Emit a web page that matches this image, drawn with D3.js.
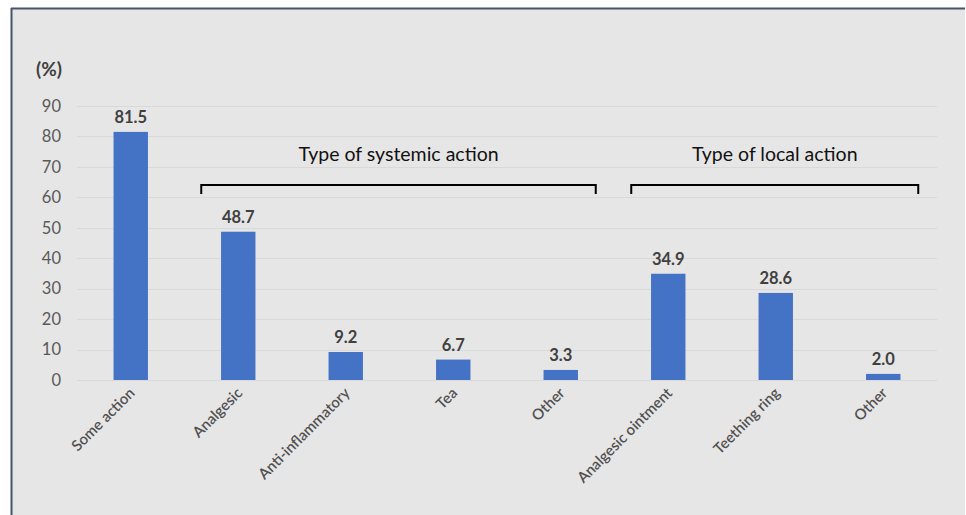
<!DOCTYPE html>
<html>
<head>
<meta charset="utf-8">
<script src="https://cdn.jsdelivr.net/npm/d3@7"></script>
<style>
  html, body { margin: 0; padding: 0; background: #fff; }
  svg { display: block; }
</style>
</head>
<body>
<div id="chart"></div>
<script>
const categories = ["Some action", "Analgesic", "Anti-inflammatory", "Tea", "Other",
                    "Analgesic ointment", "Teething ring", "Other "];
const values = [81.5, 48.7, 9.2, 6.7, 3.3, 34.9, 28.6, 2.0];
const yTicks = [0, 10, 20, 30, 40, 50, 60, 70, 80, 90];
const groups = [
  {label: "Type of systemic action", from: 1, to: 4},
  {label: "Type of local action", from: 5, to: 7}
];

var w = 966,
    h = 515;

var font = "Lato, 'Open Sans', sans-serif";

var svg = d3.select("#chart").append("svg")
    .attr("width", w)
    .attr("height", h);

// panel
svg.append("rect")
    .attr("x", 11).attr("y", 8)
    .attr("width", 954).attr("height", h)
    .attr("fill", "#e7e6e6");
svg.append("line")
    .attr("x1", 11).attr("x2", 965).attr("y1", 8.5).attr("y2", 8.5)
    .attr("stroke", "#44546a").attr("stroke-width", 2);
svg.append("line")
    .attr("x1", 11.5).attr("x2", 11.5).attr("y1", 8).attr("y2", h)
    .attr("stroke", "#44546a").attr("stroke-width", 2);

var x = d3.scaleBand()
    .domain(categories)
    .range([77, 937])
    .paddingInner(0.68)
    .paddingOuter(0.34);

var y = d3.scaleLinear()
    .domain([0, 90])
    .range([380, 106]);

// gridlines
svg.append("g")
    .selectAll("line")
    .data(yTicks)
    .enter()
    .append("line")
    .attr("x1", 77).attr("x2", 937)
    .attr("y1", function (d) { return Math.round(y(d)) + 0.5; })
    .attr("y2", function (d) { return Math.round(y(d)) + 0.5; })
    .attr("stroke", "#d9d9d9")
    .attr("stroke-width", 1);

// y axis labels
var yAxis = svg.append("g")
    .attr("transform", "translate(61,0)")
    .call(d3.axisLeft(y).tickValues(yTicks).tickSize(0).tickPadding(0));
yAxis.select(".domain").remove();
yAxis.selectAll("text")
    .attr("font-family", font)
    .attr("font-size", 16.5)
    .attr("fill", "#595959");

svg.append("text")
    .attr("x", 36).attr("y", 76)
    .attr("font-family", font)
    .attr("font-size", 19)
    .attr("font-weight", "bold")
    .attr("fill", "#404040")
    .text("(%)");

// bars
svg.selectAll("rect.bar")
    .data(values)
    .enter()
    .append("rect")
    .attr("class", "bar")
    .attr("x", function (d, i) { return x(categories[i]); })
    .attr("width", x.bandwidth())
    .attr("y", function (d) { return y(d); })
    .attr("height", function (d) { return y(0) - y(d); })
    .attr("fill", "#4472c4");

// value labels
svg.selectAll("text.val")
    .data(values)
    .enter()
    .append("text")
    .attr("class", "val")
    .attr("x", function (d, i) { return x(categories[i]) + x.bandwidth() / 2; })
    .attr("y", function (d) { return y(d) - 9; })
    .attr("text-anchor", "middle")
    .attr("font-family", font)
    .attr("font-size", 16.5)
    .attr("font-weight", "bold")
    .attr("fill", "#404040")
    .text(function (d) { return d.toFixed(1); });

// category labels
svg.selectAll("text.cat")
    .data(categories)
    .enter()
    .append("text")
    .attr("class", "cat")
    .attr("transform", function (d) {
        var cx = x(d) + x.bandwidth() / 2 + 5;
        return "translate(" + cx + ",394) rotate(-45)";
    })
    .attr("text-anchor", "end")
    .attr("font-family", font)
    .attr("font-size", 15)
    .attr("font-weight", 600)
    .attr("fill", "#505050")
    .text(function (d) { return d.trim(); });

// group brackets
groups.forEach(function (g) {
    var x0 = x(categories[g.from]) + x.bandwidth() / 2 - 37,
        x1 = x(categories[g.to]) + x.bandwidth() / 2 + 35,
        yb = 185;
    svg.append("path")
        .attr("d", "M" + x0 + "," + (yb + 9) + "V" + yb + "H" + x1 + "V" + (yb + 9))
        .attr("fill", "none")
        .attr("stroke", "#000")
        .attr("stroke-width", 2);
    svg.append("text")
        .attr("x", (x0 + x1) / 2)
        .attr("y", 161)
        .attr("text-anchor", "middle")
        .attr("font-family", font)
        .attr("font-size", 19.5)
        .attr("fill", "#111")
        .text(g.label);
});
</script>
</body>
</html>
